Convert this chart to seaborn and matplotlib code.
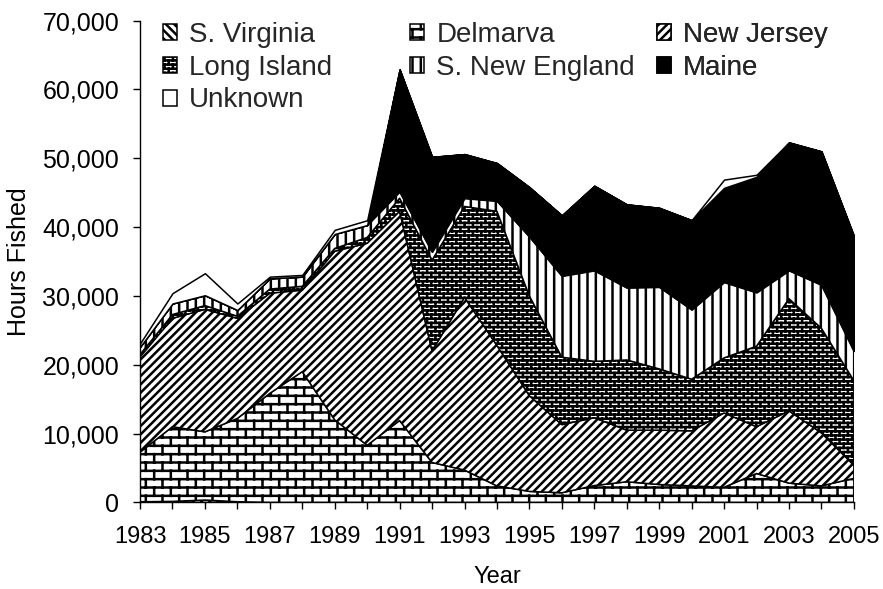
"""
Hours fished by region, 1983-2005 (stacked area chart)
"""

import warnings
import numpy as np
import pandas as pd
import matplotlib
matplotlib.use("Agg")
import matplotlib.pyplot as plt
import matplotlib.hatch as mhatch
from matplotlib.path import Path
from matplotlib.ticker import FuncFormatter
import seaborn as sns

warnings.filterwarnings("ignore")

# ---------------------------------------------------------
# Data
# ---------------------------------------------------------
years = list(range(1983, 2006))
regions = ['S. Virginia', 'Delmarva', 'New Jersey', 'Long Island',
           'S. New England', 'Maine', 'Unknown']

s_virginia = [100, 150, 350, 100, 0, 0, 0, 0, 0, 0, 0, 0,
              0, 0, 0, 0, 0, 0, 0, 0, 0, 0, 0]
delmarva = [7200, 10850, 9900, 12100, 15850, 19000, 12000, 8300, 11900, 5800, 4700, 2400,
            1600, 1400, 2450, 3000, 2600, 2400, 2200, 4200, 2800, 2400, 3500]
new_jersey = [13850, 15750, 17800, 14550, 14550, 11850, 24500, 29350, 30400, 16200, 25100, 20400,
              13900, 9900, 9850, 7500, 7900, 8000, 10800, 6800, 10500, 7700, 1900]
long_island = [350, 550, 550, 300, 600, 550, 400, 850, 1900, 13200, 13200, 19500,
               14500, 9800, 8200, 10200, 8900, 7500, 8000, 11700, 16300, 15200, 12300]
s_new_england = [1100, 1600, 1500, 900, 1550, 1400, 2100, 1800, 950, 1200, 1200, 1500,
                 8600, 11800, 13200, 10500, 11900, 10100, 11000, 7800, 4100, 6300, 4300]
maine = [0, 0, 0, 0, 0, 0, 0, 0, 17750, 13800, 6400, 5500,
         7200, 8800, 12300, 12100, 11500, 13000, 13700, 16800, 18600, 19400, 16700]
unknown = [500, 1500, 3200, 950, 250, 250, 600, 700, 0, 0, 0, 0,
           0, 0, 0, 0, 0, 0, 1200, 300, 0, 0, 0]

df = pd.DataFrame({'Year': years, 'S. Virginia': s_virginia, 'Delmarva': delmarva,
                   'New Jersey': new_jersey, 'Long Island': long_island,
                   'S. New England': s_new_england, 'Maine': maine, 'Unknown': unknown})

# fill / hatch per region (brick hatch 'b' is registered below)
styles = {
    'S. Virginia':    ('white', '\\\\\\\\'),
    'Delmarva':       ('white', 'b'),
    'New Jersey':     ('white', '////'),
    'Long Island':    ('white', 'bb'),
    'S. New England': ('white', '||'),
    'Maine':          ('black', None),
    'Unknown':        ('white', None),
}


# ---------------------------------------------------------
# Brick wall hatch (not built into matplotlib)
# ---------------------------------------------------------
class BrickHatch(mhatch.HatchPatternBase):
    def __init__(self, hatch, density):
        n = hatch.count('b')
        segs = []
        if n:
            rows, cols = 12 * n, 6 * n
            for i in range(rows):
                y0 = (i + 0.5) / rows
                y1 = (i + 1.5) / rows
                segs.append(((0, y0), (1, y0)))
                for j in range(cols):
                    x = (j + 0.25 + 0.5 * (i % 2)) / cols
                    if i == rows - 1:
                        segs.append(((x, y0), (x, 1)))
                        segs.append(((x, 0), (x, y1 - 1)))
                    else:
                        segs.append(((x, y0), (x, y1)))
        self.segs = segs
        self.num_vertices = 2 * len(segs)

    def set_vertices_and_codes(self, vertices, codes):
        vertices[:] = np.array(self.segs, dtype=float).reshape(-1, 2)
        codes[0::2] = Path.MOVETO
        codes[1::2] = Path.LINETO


mhatch._hatch_types.append(BrickHatch)

# ---------------------------------------------------------
# Style
# ---------------------------------------------------------
sns.set_theme(style="ticks")
plt.rcParams['font.family'] = ['Liberation Sans', 'DejaVu Sans']
plt.rcParams['hatch.linewidth'] = 1.8
plt.rcParams['axes.edgecolor'] = 'black'

fig, ax = plt.subplots(figsize=(8.83, 5.89), dpi=100)
fig.subplots_adjust(left=0.1586, right=0.967, bottom=0.147, top=0.965)

lower = np.zeros(len(years))
handles = {}
for name in regions:
    upper = lower + df[name].to_numpy()
    fc, hatch = styles[name]
    h = ax.fill_between(df['Year'], lower, upper, facecolor=fc, edgecolor='black',
                        hatch=hatch, linewidth=1.1, label=name)
    handles[name] = h
    lower = upper

ax.set_xlim(1983, 2005)
ax.set_ylim(0, 70000)
ax.set_xticks(years[::2])
ax.set_xticks(years, minor=True)
ax.set_yticks(range(0, 70001, 10000))
ax.yaxis.set_major_formatter(FuncFormatter(lambda v, p: f"{v:,.0f}"))
ax.tick_params(axis='both', which='both', direction='out', length=5, width=1,
               color='black', labelcolor='black')
ax.tick_params(axis='x', which='both', pad=12, labelsize=17)
ax.tick_params(axis='y', pad=10, labelsize=18)

ax.set_xlabel('Year', fontsize=17, labelpad=13, color='black')
ax.set_ylabel('Hours Fished', fontsize=18, labelpad=8, color='black')
sns.despine(ax=ax)
for s in ['left', 'bottom']:
    ax.spines[s].set_linewidth(1)

# legend: three separate columns like the original
columns = [(['S. Virginia', 'Long Island', 'Unknown'], 0.032),
           (['Delmarva', 'S. New England'], 0.378),
           (['New Jersey', 'Maine'], 0.724)]
for labels, x0 in columns:
    leg = ax.legend([handles[l] for l in labels], labels, loc='upper left',
                    bbox_to_anchor=(x0, 0.998), frameon=False, fontsize=20,
                    handlelength=0.5, handleheight=0.5, handletextpad=0.45,
                    labelspacing=0.25, borderaxespad=0, borderpad=0)
    ax.add_artist(leg)

plt.savefig('out.png', dpi=100)
plt.close()
